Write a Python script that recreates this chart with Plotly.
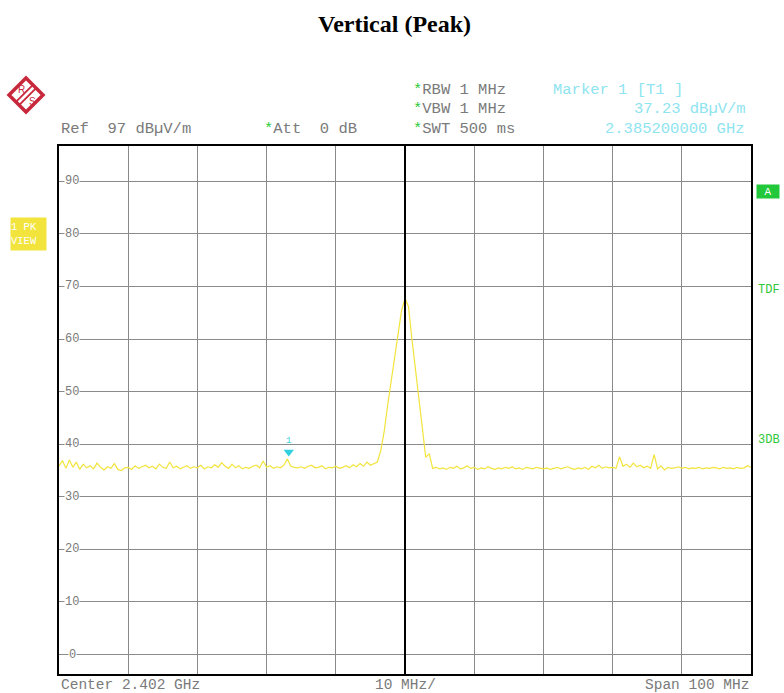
import plotly.graph_objects as go

# ---- data ----
f_start_mhz = 2352.0
f_step_mhz = 0.5
level_dbuv = [
    35.8, 36.9, 35.4, 37.0, 35.6, 36.6, 35.2, 36.2, 35.5, 35.9,
    35.3, 36.4, 35.6, 35.1, 35.7, 35.4, 36.3, 35.2, 35.0, 35.5,
    35.6, 35.2, 35.9, 35.4, 35.7, 36.0, 35.5, 35.8, 35.3, 36.2,
    35.6, 35.4, 36.6, 35.5, 35.8, 35.3, 35.6, 35.9, 35.4, 35.7,
    35.5, 36.0, 35.3, 35.7, 35.5, 36.1, 35.6, 36.5, 35.8, 35.4,
    36.2, 35.5, 35.9, 35.3, 35.6, 35.4, 35.8, 36.0, 35.5, 36.8,
    35.6, 35.9, 35.4, 35.7, 35.5, 36.0, 37.2, 35.8, 35.6, 35.5,
    35.7, 35.4, 35.8, 36.0, 35.5, 35.6, 35.9, 35.3, 35.6, 35.5,
    35.8, 35.4, 35.6, 35.9, 35.5, 36.1, 35.7, 36.3, 35.8, 36.6,
    36.0, 36.3, 36.6, 38.8, 42.5, 47.5, 52.2, 57.0, 61.6, 65.4,
    67.7, 66.2, 60.0, 54.5, 49.0, 42.5, 37.5, 38.2, 35.4, 35.6,
    35.3, 35.5, 35.2, 35.6, 35.4, 35.8, 35.3, 35.5, 35.9, 35.4,
    35.6, 35.2, 35.5, 35.3, 35.7, 35.4, 35.2, 35.5, 35.3, 35.6,
    35.4, 35.7, 35.3, 35.5, 35.2, 35.6, 35.4, 35.3, 35.6, 35.5,
    35.3, 35.5, 35.2, 35.4, 35.6, 35.3, 35.5, 35.7, 35.4, 35.2,
    35.5, 35.3, 35.6, 35.2, 35.8, 35.5, 36.0, 35.4, 35.7, 35.5,
    35.6, 35.4, 37.6, 35.8, 36.2, 35.6, 36.4, 35.7, 36.0, 35.5,
    35.8, 35.4, 38.0, 35.3, 35.9, 35.1, 35.6, 35.4, 35.5, 35.7,
    35.4, 35.6, 35.3, 35.5, 35.4, 35.6, 35.3, 35.5, 35.4, 35.6,
    35.5, 35.3, 35.6, 35.4, 35.5, 35.3, 35.6, 35.4, 35.5, 35.9,
    35.6,
]
freq_mhz = [f_start_mhz + f_step_mhz * i for i in range(len(level_dbuv))]

marker_freq_mhz = [2385.2]
marker_level = [37.23]

y_tick_vals = [0, 10, 20, 30, 40, 50, 60, 70, 80, 90]
y_tick_labels = ["0", "10", "20", "30", "40", "50", "60", "70", "80", "90"]

title_text = "Vertical (Peak)"

# ---- figure ----
MONO = "Liberation Mono"
GREY = "#7a7a7a"
GREEN = "#2ec83a"
CYAN = "#8ee4f0"
YEL = "#f2e43c"
RED = "#c8283c"
W, H = 784, 693
L, T = 59, 146
R = W - 751
B = H - 674
PW, PH = W - L - R, H - T - B


def px(x):
    return (x - L) / PW


def py(y):
    return (H - B - y) / PH


fig = go.Figure()
fig.add_trace(go.Scatter(x=freq_mhz, y=level_dbuv, mode="lines",
                         line=dict(color=YEL, width=1.2), hoverinfo="skip"))
fig.add_trace(go.Scatter(x=marker_freq_mhz, y=[v + 1.3 for v in marker_level],
                         mode="markers+text", text=["1"], textposition="top center",
                         textfont=dict(color="#40d0e0", size=9, family=MONO),
                         marker=dict(symbol="triangle-down", size=9, color="#30d0e0"),
                         hoverinfo="skip"))

annotations = []
for v, t in zip(y_tick_vals, y_tick_labels):
    annotations.append(dict(x=px(72), xref="paper", y=v, yref="y", text=t,
                            xanchor="center", yanchor="middle",
                            showarrow=False, bgcolor="white", borderpad=0,
                            font=dict(family=MONO, size=12, color=GREY)))


def txt(x, y, s, anchor="left", color=GREY, size=15.5):
    annotations.append(dict(x=px(x), y=py(y), xref="paper", yref="paper", text=s,
                            showarrow=False, xanchor=anchor, yanchor="middle",
                            font=dict(family=MONO, size=size, color=color)))


star = "<span style='color:%s'>*</span>" % GREEN
txt(59, 129, "Ref  97 dBµV/m")
txt(262, 129, star + "Att  0 dB")
txt(411, 90, star + "RBW 1 MHz")
txt(411, 109, star + "VBW 1 MHz")
txt(411, 129, star + "SWT 500 ms")
txt(551, 90, "Marker 1 [T1 ]", color=CYAN)
txt(748, 109, "37.23 dBµV/m", anchor="right", color=CYAN)
txt(747, 129, "2.385200000 GHz", anchor="right", color=CYAN)
txt(59, 685, "Center 2.402 GHz", size=14.5)
txt(405, 685, "10 MHz/", anchor="center", size=14.5)
txt(751, 685, "Span 100 MHz", anchor="right", size=14.5)
txt(756, 290, "TDF", color=GREEN, size=12)
txt(756, 440, "3DB", color=GREEN, size=12)

annotations.append(dict(x=px(768), y=py(191), xref="paper", yref="paper", text="A",
                        xanchor="center", yanchor="middle",
                        showarrow=False, bgcolor="#22c83a", width=22, height=13, borderpad=0,
                        font=dict(family=MONO, size=11, color="white")))
annotations.append(dict(x=px(28), y=py(234), xref="paper", yref="paper",
                        xanchor="center", yanchor="middle",
                        text="1 PK<br>VIEW", showarrow=False, bgcolor=YEL,
                        width=35, height=32, borderpad=0, align="left",
                        font=dict(family=MONO, size=10.5, color="white")))

annotations.append(dict(x=px(394), y=py(24), xref="paper", yref="paper", xanchor="center",
                        yanchor="middle",
                        text="<b>" + title_text + "</b>", showarrow=False,
                        font=dict(family="Liberation Serif", size=24, color="black")))

annotations.append(dict(x=px(21), y=py(89), xref="paper", yref="paper", text="R",
                        xanchor="center", yanchor="middle",
                        showarrow=False, font=dict(family="Liberation Sans", size=10, color=RED)))
annotations.append(dict(x=px(32), y=py(101), xref="paper", yref="paper", text="S",
                        xanchor="center", yanchor="middle",
                        showarrow=False, font=dict(family="Liberation Sans", size=10, color=RED)))

shapes = []
shapes.append(dict(type="line", xref="x", yref="paper", x0=2402, x1=2402, y0=0, y1=1,
                   line=dict(color="black", width=2)))
cx, cy, r = 26, 95, 17
shapes.append(dict(type="path", xref="paper", yref="paper",
                   path="M %f %f L %f %f L %f %f L %f %f Z" % (
                       px(cx), py(cy - r), px(cx + r), py(cy), px(cx), py(cy + r), px(cx - r), py(cy)),
                   line=dict(color=RED, width=3.5), fillcolor="rgba(0,0,0,0)"))
h = r / 2
for d in (-1.6, 1.6):
    shapes.append(dict(type="line", xref="paper", yref="paper",
                       x0=px(cx - h + d), y0=py(cy + h + d), x1=px(cx + h + d), y1=py(cy - h + d),
                       line=dict(color=RED, width=1.8)))

fig.update_layout(
    width=W, height=H, margin=dict(l=L, r=R, t=T, b=B),
    paper_bgcolor="white", plot_bgcolor="white", showlegend=False,
    annotations=annotations, shapes=shapes,
    xaxis=dict(range=[2352, 2452], tick0=2352, dtick=10, showticklabels=False,
               showgrid=True, gridcolor="#8a8a8a", gridwidth=1, zeroline=False,
               showline=True, linecolor="black", linewidth=2, mirror=True, ticks=""),
    yaxis=dict(range=[-3.7, 96.7], tickvals=y_tick_vals, showticklabels=False,
               showgrid=True, gridcolor="#8a8a8a", gridwidth=1, zeroline=False,
               showline=True, linecolor="black", linewidth=2, mirror=True, ticks=""),
)

fig.write_html("out.html",
               config={"displayModeBar": False},
               post_script="document.body.style.margin='0';"
                           "document.documentElement.style.overflow='hidden';")
